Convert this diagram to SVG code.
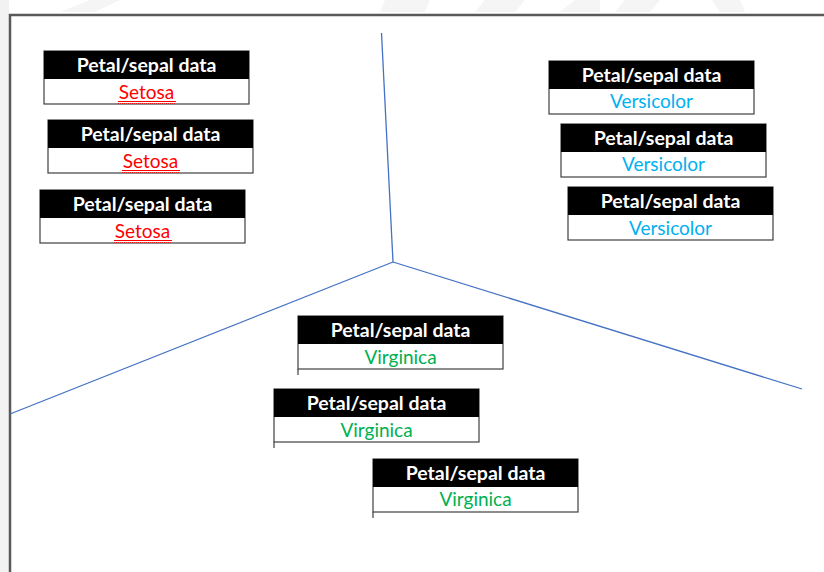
<svg xmlns="http://www.w3.org/2000/svg" width="824" height="572" viewBox="0 0 824 572">
  <style>
    .hdr { fill: #000000; }
    .body { fill: #ffffff; stroke: #404040; stroke-width: 1.2; }
    .tick { stroke: #404040; stroke-width: 1.2; }
    .title { font-family: Lato, "Open Sans", sans-serif; font-weight: bold; font-size: 19.5px; fill: #ffffff; text-anchor: middle; }
    .label { font-family: Lato, "Open Sans", sans-serif; font-size: 19px; text-anchor: middle; }
    .setosa { fill: #ff0000; }
    .versicolor { fill: #00b0f0; }
    .virginica { fill: #00b050; }
    .axis { stroke: #4472c4; stroke-width: 1.3; fill: none; }
    .frame { stroke: #595959; stroke-width: 2.5; fill: none; }
    .squiggle { stroke: #ff0000; stroke-width: 0.8; fill: none; stroke-dasharray: 1 1; }
  </style>
  <defs>
    <!-- one data card: black title band over a white body -->
    <g id="card">
      <rect class="body" x="0" y="0" width="205" height="53"/>
      <rect class="hdr" x="0" y="0" width="205" height="28"/>
      <text class="title" x="102.5" y="21">Petal/sepal data</text>
    </g>
    <!-- red spell-check underline under a species name -->
    <g id="spell">
      <line x1="-29" y1="0" x2="29" y2="0" stroke="#ff0000" stroke-width="1"/>
      <line class="squiggle" x1="-29" y1="2" x2="29" y2="2"/>
    </g>
  </defs>

  <rect x="0" y="0" width="824" height="572" fill="#ffffff"/>
  <!-- faint page background at the edges -->
  <rect x="0" y="0" width="9" height="572" fill="#f2f2f2"/>
  <g fill="#f5f5f5">
    <polygon points="60,12 90,0 120,0 95,12"/>
    <polygon points="380,12 385,0 430,0 425,12"/>
    <polygon points="475,12 485,0 525,0 515,12"/>
    <polygon points="560,12 575,0 600,0 600,12"/>
    <polygon points="615,12 625,0 660,0 650,12"/>
    <polygon points="720,12 712,0 740,0 745,12"/>
  </g>
  <!-- outer frame -->
  <polyline class="frame" points="10,572 10,15 824,15"/>

  <!-- dividing axes -->
  <g id="connectors">
    <line class="axis" x1="381.5" y1="33" x2="393" y2="262"/>
    <line class="axis" x1="393" y1="262" x2="10" y2="414"/>
    <line class="axis" x1="393" y1="262" x2="802" y2="389"/>
  </g>

  <!-- Setosa cards -->
  <g id="setosa1">
    <use href="#card" x="44" y="51"/>
    <text class="label setosa" x="146.5" y="99">Setosa</text>
    <use href="#spell" x="147" y="101.5"/>
  </g>
  <g id="setosa2">
    <use href="#card" x="48" y="120"/>
    <text class="label setosa" x="150.5" y="168">Setosa</text>
    <use href="#spell" x="151" y="170.5"/>
  </g>
  <g id="setosa3">
    <use href="#card" x="40" y="190"/>
    <text class="label setosa" x="142.5" y="238">Setosa</text>
    <use href="#spell" x="143" y="240.5"/>
  </g>

  <!-- Versicolor cards -->
  <g id="versicolor1">
    <use href="#card" x="549" y="61"/>
    <text class="label versicolor" x="651.5" y="108">Versicolor</text>
  </g>
  <g id="versicolor2">
    <use href="#card" x="561" y="124"/>
    <text class="label versicolor" x="663.5" y="171">Versicolor</text>
  </g>
  <g id="versicolor3">
    <use href="#card" x="568" y="187"/>
    <text class="label versicolor" x="670.5" y="235">Versicolor</text>
  </g>

  <!-- Virginica cards -->
  <g id="virginica1">
    <use href="#card" x="298" y="316"/>
    <text class="label virginica" x="400.5" y="364">Virginica</text>
    <line class="tick" x1="298" y1="369" x2="298" y2="375"/>
  </g>
  <g id="virginica2">
    <use href="#card" x="274" y="389"/>
    <text class="label virginica" x="376.5" y="437">Virginica</text>
    <line class="tick" x1="274" y1="442" x2="274" y2="448"/>
  </g>
  <g id="virginica3">
    <use href="#card" x="373" y="459"/>
    <text class="label virginica" x="475.5" y="506">Virginica</text>
    <line class="tick" x1="373" y1="512" x2="373" y2="518"/>
  </g>
</svg>
